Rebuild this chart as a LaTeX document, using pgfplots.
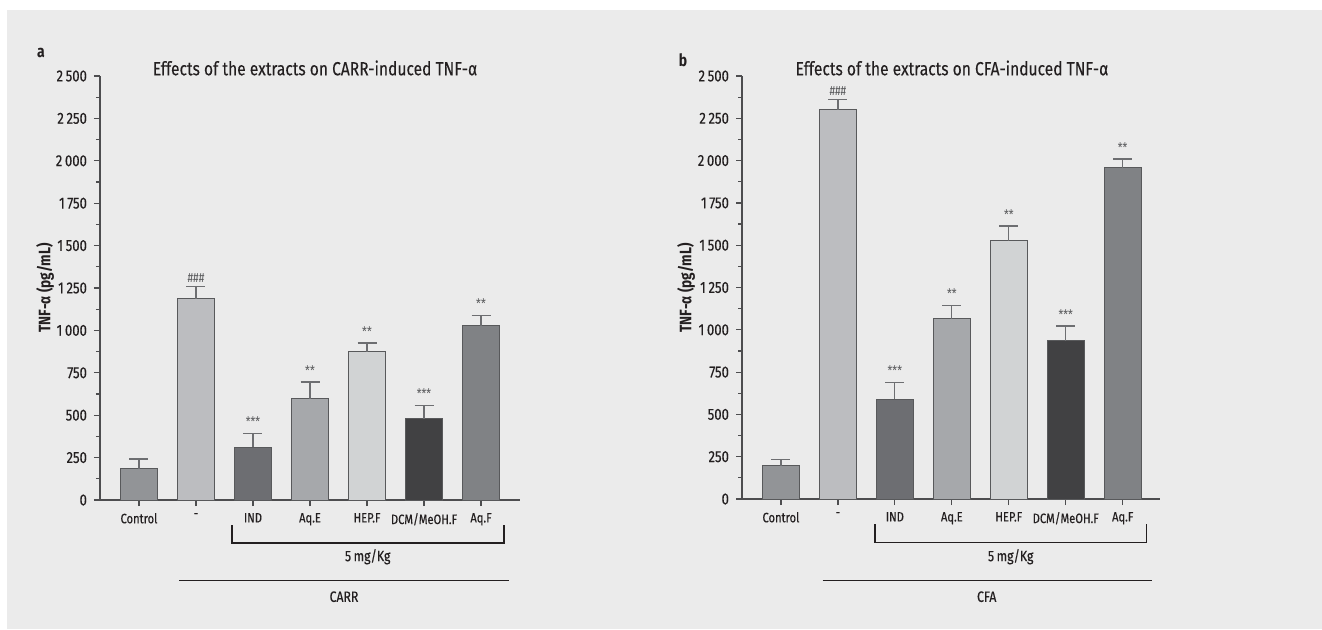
\documentclass[border=0pt]{standalone}
\usepackage{pgfplots}
\pgfplotsset{compat=1.18}
\usepackage{fontspec}
\setmainfont[FakeStretch=0.82]{Fira Sans}
\newfontfamily\fsmed[FakeStretch=0.82, FakeBold=0.3]{Fira Sans}
\newfontfamily\fstitle[FakeStretch=0.82, FakeBold=0.15]{Fira Sans}

\definecolor{bg}{HTML}{EBEBEB}
\definecolor{axisgray}{HTML}{4D4D4F}
\definecolor{bardraw}{HTML}{58595B}
\definecolor{errgray}{HTML}{6D6E71}
\definecolor{stargray}{HTML}{58595B}
\definecolor{txt}{HTML}{231F20}
\definecolor{cCtrl}{HTML}{929497}
\definecolor{cNeg}{HTML}{BCBDC0}
\definecolor{cInd}{HTML}{6D6E72}
\definecolor{cAqE}{HTML}{A6A8AB}
\definecolor{cHep}{HTML}{D1D3D4}
\definecolor{cDcm}{HTML}{414143}
\definecolor{cAqF}{HTML}{808285}

\pgfplotsset{
  panel/.style={
    scale only axis, height=212pt,
    ymin=0, ymax=2500, xmin=-0.684,
    axis x line*=bottom, axis y line*=left,
    axis line style={draw=axisgray, line width=0.65pt},
    tick align=outside, major tick length=3pt, minor tick length=2pt,
    tick style={draw=axisgray, line width=0.6pt},
    xtick={0,...,6},
    xticklabels={Control,-,IND,Aq.E,HEP.F,DCM/MeOH.F,Aq.F},
    ytick={0,250,...,2500},
    yticklabels={0,250,500,750,1\,000,1\,250,1\,500,1\,750,2\,000,2\,250,2\,500},
    minor y tick num=1,
    xticklabel style={font=\fsmed\fontsize{6.8}{8}\selectfont, text=txt},
    yticklabel style={font=\fsmed\fontsize{8}{9}\selectfont, text=txt},
    clip=false,
  },
  bar/.style={
    ybar, bar width=18.5pt, bar shift=0pt, fill=#1, draw=bardraw, line width=0.5pt,
    error bars/.cd, y dir=plus, y explicit, error mark=|,
    error bar style={draw=errgray, line width=0.6pt},
    error mark options={draw=errgray, mark size=4.75pt, line width=0.6pt},
  },
}
\newcommand{\signif}[3]{\node[anchor=south, inner sep=0pt, text=stargray, font=\fontsize{6.6}{7}\selectfont, yshift=#3] at (axis cs:#1) {#2};}

\begin{document}
\begin{tikzpicture}
\begin{scope}[x=0.5pt, y=0.5pt]
\path[use as bounding box, fill=white] (0,0) rectangle (1322,629);
\fill[bg] (7,0) rectangle (1322,619);
\end{scope}

% panel a
\begin{axis}[panel, at={(50pt,64.5pt)}, anchor=south west, width=210pt, xmax=6.684]
\addplot[bar=cCtrl] coordinates {(0,185) +- (0,57)};
\addplot[bar=cNeg]  coordinates {(1,1187) +- (0,71)};
\addplot[bar=cInd]  coordinates {(2,312) +- (0,81)};
\addplot[bar=cAqE]  coordinates {(3,597) +- (0,99)};
\addplot[bar=cHep]  coordinates {(4,874) +- (0,52)};
\addplot[bar=cDcm]  coordinates {(5,478) +- (0,80)};
\addplot[bar=cAqF]  coordinates {(6,1028) +- (0,59)};
\signif{1,1258}{\#\#\#}{1.8pt}
\signif{2,393}{***}{3.2pt}
\signif{3,696}{**}{3.2pt}
\signif{4,926}{**}{3.2pt}
\signif{5,558}{***}{3.2pt}
\signif{6,1087}{**}{3.2pt}
\end{axis}

% panel b
\begin{axis}[panel, at={(371pt,65pt)}, anchor=south west, width=209.2pt, height=211.5pt, xmax=6.662]
\addplot[bar=cCtrl] coordinates {(0,197) +- (0,35)};
\addplot[bar=cNeg]  coordinates {(1,2300) +- (0,60)};
\addplot[bar=cInd]  coordinates {(2,589) +- (0,98)};
\addplot[bar=cAqE]  coordinates {(3,1066) +- (0,76)};
\addplot[bar=cHep]  coordinates {(4,1527) +- (0,86)};
\addplot[bar=cDcm]  coordinates {(5,936) +- (0,86)};
\addplot[bar=cAqF]  coordinates {(6,1958) +- (0,51)};
\signif{1,2360}{\#\#\#}{1.8pt}
\signif{2,687}{***}{3.2pt}
\signif{3,1142}{**}{3.2pt}
\signif{4,1613}{**}{3.2pt}
\signif{5,1022}{***}{3.2pt}
\signif{6,2009}{**}{3.2pt}
\end{axis}

\begin{scope}[x=0.5pt, y=0.5pt]
% titles and panel letters
\node[text=txt, font=\fstitle\fontsize{9.5}{10}\selectfont] at (315,561) {Effects of the extracts on CARR-induced TNF-α};
\node[text=txt, font=\fstitle\fontsize{9.5}{10}\selectfont] at (952,561) {Effects of the extracts on CFA-induced TNF-α};
\node[text=txt, font=\bfseries\fontsize{8.5}{10}\selectfont, anchor=base] at (41,572) {a};
\node[text=txt, font=\bfseries\fontsize{8.5}{10}\selectfont, anchor=base] at (683,563) {b};
\node[text=txt, font=\bfseries\fontsize{8.3}{9}\selectfont, rotate=90] at (45,341) {TNF-α (pg/mL)};
\node[text=txt, font=\bfseries\fontsize{8.3}{9}\selectfont, rotate=90] at (686,341) {TNF-α (pg/mL)};

% group brackets, panel a
\draw[txt, line width=0.65pt] (232,104) -- (232,86) -- (504,86) -- (504,104);
\node[text=txt, font=\fsmed\fontsize{7.5}{9}\selectfont] at (367.7,72.3) {5\,mg/Kg};
\draw[txt, line width=0.65pt] (179,48.7) -- (509,48.7);
\node[text=txt, font=\fsmed\fontsize{7.5}{9}\selectfont] at (344,32.3) {CARR};

% group brackets, panel b
\draw[txt, line width=0.65pt] (875,105) -- (875,86.7) -- (1146.7,86.7) -- (1146.7,105);
\node[text=txt, font=\fsmed\fontsize{7.5}{9}\selectfont] at (1010.7,72.3) {5\,mg/Kg};
\draw[txt, line width=0.65pt] (822.7,48.7) -- (1151.7,48.7);
\node[text=txt, font=\fsmed\fontsize{7.5}{9}\selectfont] at (986.7,32.3) {CFA};
\end{scope}
\end{tikzpicture}
\end{document}
